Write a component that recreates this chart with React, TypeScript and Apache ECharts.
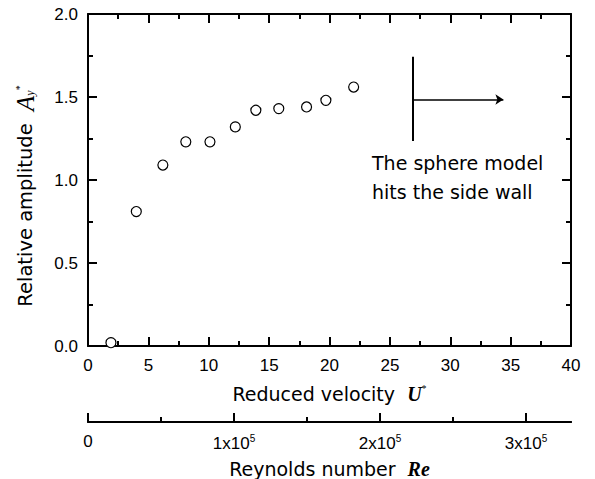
import React, { useEffect, useRef } from "react";
import * as echarts from "echarts";

const uStar = [1.9, 4.0, 6.2, 8.1, 10.1, 12.2, 13.9, 15.8, 18.1, 19.7, 22.0];
const ampY = [0.02, 0.81, 1.09, 1.23, 1.23, 1.32, 1.42, 1.43, 1.44, 1.48, 1.56];
const reMajor = [0, 100000, 200000, 300000];
const reMinor = [50000, 150000, 250000];
const wallU = 26.9;
const wallRange = [1.235, 1.743];
const arrowY = 1.485;
const arrowEnd = 34.4;

const FONT = "DejaVu Sans";
const NUMFONT = "Liberation Sans";

export default function App() {
  const ref = useRef<HTMLDivElement>(null);
  useEffect(() => {
    if (!ref.current) return;
    const chart = echarts.init(ref.current, null, { renderer: "svg" });
    const axisLine = { show: true, onZero: false, lineStyle: { color: "#000", width: 2 } };
    const tick = { show: true, inside: true, length: 9, lineStyle: { color: "#000", width: 2 } };
    const minor = { show: true, splitNumber: 2, length: 5, lineStyle: { color: "#000", width: 2 } };
    const label = { color: "#000", fontSize: 17, fontFamily: NUMFONT, margin: 11 };
    const supRich = {
      t: { fontSize: 19, fontFamily: FONT, color: "#000" },
      i: { fontSize: 20, fontFamily: "Liberation Serif", fontStyle: "italic", fontWeight: "bold", color: "#000" },
      s: { fontSize: 10, fontFamily: "Liberation Serif", color: "#000", padding: [0, 0, 12, 0] },
    };
    chart.setOption({
      animation: false,
      grid: { left: 88, top: 14, width: 483, height: 332, containLabel: false, outerBoundsMode: "none" },
      xAxis: [
        {
          type: "value", min: 0, max: 40, interval: 5, position: "bottom",
          axisLine, axisTick: tick, minorTick: minor, splitLine: { show: false },
          axisLabel: label,
          name: "{t|Reduced velocity  }{i|U}{s|*}",
          nameLocation: "middle", nameGap: 37,
          nameTextStyle: { rich: supRich },
        },
        {
          type: "value", min: 0, max: 40, interval: 5, position: "top",
          axisLine, axisTick: tick, minorTick: minor, splitLine: { show: false },
          axisLabel: { show: false },
        },
        {
          type: "value", min: 0, max: 330800, position: "bottom", offset: 76,
          axisLine, splitLine: { show: false },
          axisTick: { ...tick, customValues: reMajor },
          axisLabel: {
            ...label, margin: 11, customValues: reMajor,
            formatter: (v: number) => (v === 0 ? "0" : `{b|${v / 100000}x10}{p|5}`),
            rich: {
              b: { fontSize: 17, fontFamily: NUMFONT, color: "#000" },
              p: { fontSize: 10, fontFamily: NUMFONT, color: "#000", padding: [0, 0, 10, 0] },
            },
          },
          name: "{t|Reynolds number  }{i|Re}",
          nameLocation: "middle", nameGap: 37,
          nameTextStyle: { rich: supRich },
        },
        {
          type: "value", min: 0, max: 330800, position: "bottom", offset: 76,
          axisLine, splitLine: { show: false },
          axisTick: { ...tick, length: 5, customValues: reMinor },
          axisLabel: { show: false },
        },
      ],
      yAxis: [
        {
          type: "value", min: 0, max: 2, interval: 0.5, position: "left",
          axisLine, axisTick: tick, minorTick: minor, splitLine: { show: false },
          axisLabel: { ...label, margin: 10, formatter: (v: number) => v.toFixed(1) },
          name: "{t|Relative amplitude  }{a|A}{sb|y}{s|*}",
          nameLocation: "middle", nameGap: 50, nameRotate: 90,
          nameTextStyle: {
            rich: {
              ...supRich,
              t: { fontSize: 19.5, fontFamily: FONT, color: "#000" },
              a: { fontSize: 25, fontFamily: "Liberation Serif", fontStyle: "italic", color: "#000" },
              sb: { fontSize: 12, fontFamily: "Liberation Serif", fontStyle: "italic", color: "#000", padding: [8, 0, 0, 0] },
            },
            padding: [0, 32, 0, 0],
          },
        },
        {
          type: "value", min: 0, max: 2, interval: 0.5, position: "right",
          axisLine, axisTick: tick, minorTick: minor, splitLine: { show: false },
          axisLabel: { show: false },
        },
      ],
      series: [
        {
          type: "scatter",
          xAxisIndex: 0,
          yAxisIndex: 0,
          data: uStar.map((u, i) => [u, ampY[i]]),
          symbol: "circle",
          symbolSize: 10,
          itemStyle: { color: "#fff", borderColor: "#000", borderWidth: 1.2, opacity: 1 },
          markLine: {
            silent: true,
            animation: false,
            label: { show: false },
            lineStyle: { color: "#000", width: 1.5, type: "solid" },
            symbol: ["none", "arrow"],
            symbolSize: 8,
            data: [
              [
                { coord: [wallU, wallRange[0]], symbol: "none", lineStyle: { width: 2, color: "#000", type: "solid" } },
                { coord: [wallU, wallRange[1]], symbol: "none" },
              ],
              [
                { coord: [wallU, arrowY], symbol: "none" },
                { coord: [arrowEnd, arrowY], symbol: "arrow", symbolSize: 8 },
              ],
            ],
          },
        },
      ],
      graphic: [
        {
          type: "text",
          left: 372,
          top: 148,
          style: {
            text: "The sphere model\nhits the side wall",
            fontSize: 19,
            fontFamily: FONT,
            fill: "#000",
            lineHeight: 29,
          },
        },
      ],
    });
    return () => chart.dispose();
  }, []);
  return (
    <div
      ref={ref}
      style={{ position: "fixed", left: 0, top: 0, width: 595, height: 479, background: "#fff" }}
    />
  );
}
